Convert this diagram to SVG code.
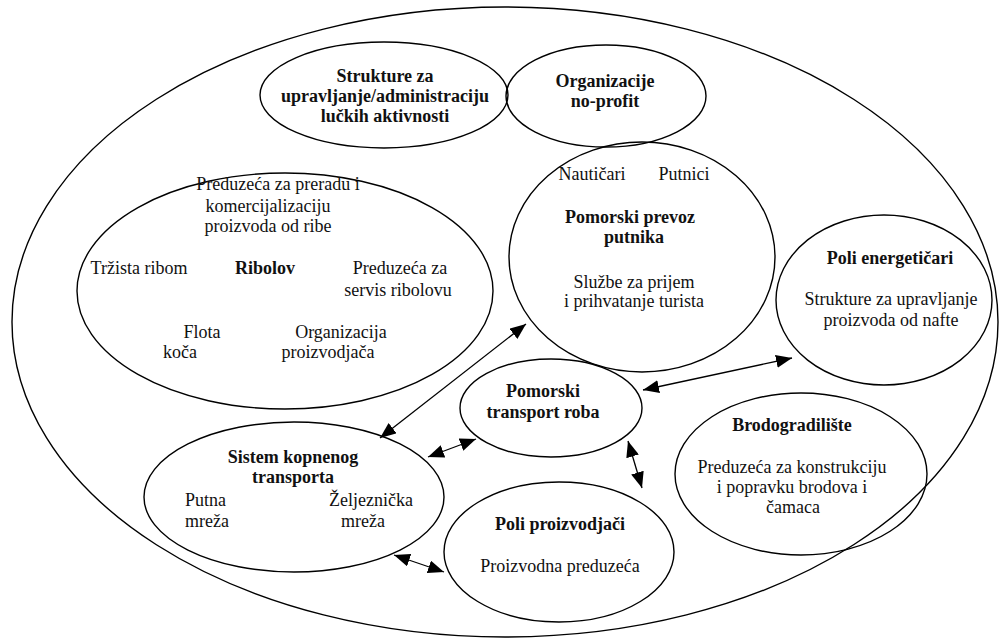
<svg xmlns="http://www.w3.org/2000/svg" width="999" height="638" viewBox="0 0 999 638">
<defs>
<style>
.e{fill:none;stroke:#000;stroke-width:1.4}
.t{font-family:"Liberation Serif","Times New Roman",serif;font-size:18px;fill:#111;text-anchor:middle}
.b{font-weight:bold}
.c{fill:none;stroke:#000;stroke-width:1.3}
</style>
<marker id="ah" viewBox="0 0 16 13" refX="16" refY="6.5" markerWidth="16" markerHeight="13" markerUnits="userSpaceOnUse" orient="auto-start-reverse">
<path d="M0,0 L16,6.5 L0,13 z" fill="#000"/>
</marker>
</defs>
<rect width="999" height="638" fill="#fff"/>
<g id="outer"><ellipse class="e" cx="505" cy="322" rx="493" ry="315"/></g>
<g id="strukture">
<ellipse class="e" cx="384" cy="95" rx="124" ry="53"/>
<text class="t b" x="385" y="82">Strukture za</text>
<text class="t b" x="385" y="102">upravljanje/administraciju</text>
<text class="t b" x="385" y="122">lučkih aktivnosti</text>
</g>
<g id="organizacije">
<ellipse class="e" cx="606" cy="96" rx="100" ry="51"/>
<text class="t b" x="605" y="87">Organizacije</text>
<text class="t b" x="605" y="107">no-profit</text>
</g>
<g id="ribolov">
<ellipse class="e" cx="285" cy="291" rx="208" ry="118"/>
<text class="t" x="278" y="190">Preduzeća za preradu i</text>
<text class="t" x="268" y="212">komercijalizaciju</text>
<text class="t" x="268" y="232">proizvoda od ribe</text>
<text class="t" x="139" y="274">Tržista ribom</text>
<text class="t b" x="265" y="274">Ribolov</text>
<text class="t" x="400" y="274">Preduzeća za</text>
<text class="t" x="398" y="296">servis ribolovu</text>
<text class="t" x="202" y="338">Flota</text>
<text class="t" x="180" y="358">koča</text>
<text class="t" x="341" y="338">Organizacija</text>
<text class="t" x="328" y="358">proizvodjača</text>
</g>
<g id="pomorski-prevoz">
<ellipse class="e" cx="642" cy="257" rx="133" ry="115"/>
<text class="t" x="592" y="180">Nautičari</text>
<text class="t" x="684" y="180">Putnici</text>
<text class="t b" x="630" y="223">Pomorski prevoz</text>
<text class="t b" x="634" y="243">putnika</text>
<text class="t" x="634" y="288">Službe za prijem</text>
<text class="t" x="634" y="307">i prihvatanje turista</text>
</g>
<g id="poli-energeticari">
<ellipse class="e" cx="884" cy="300" rx="108" ry="85"/>
<text class="t b" x="890" y="264">Poli energetičari</text>
<text class="t" x="891" y="305">Strukture za upravljanje</text>
<text class="t" x="891" y="326">proizvoda od nafte</text>
</g>
<g id="brodogradiliste">
<ellipse class="e" cx="801" cy="474" rx="126" ry="81"/>
<text class="t b" x="792" y="431">Brodogradilište</text>
<text class="t" x="792" y="473">Preduzeća za konstrukciju</text>
<text class="t" x="792" y="493">i popravku brodova i</text>
<text class="t" x="793" y="513">čamaca</text>
</g>
<g id="transport-roba">
<ellipse class="e" cx="551" cy="408" rx="91" ry="49"/>
<text class="t b" x="543" y="397">Pomorski</text>
<text class="t b" x="543" y="418">transport roba</text>
</g>
<g id="sistem-kopnenog">
<ellipse class="e" cx="294" cy="497" rx="150" ry="75"/>
<text class="t b" x="293" y="463">Sistem kopnenog</text>
<text class="t b" x="293" y="483">transporta</text>
<text class="t" x="185" y="506" style="text-anchor:start">Putna</text>
<text class="t" x="185" y="527" style="text-anchor:start">mreža</text>
<text class="t" x="371" y="506">Željeznička</text>
<text class="t" x="363" y="527">mreža</text>
</g>
<g id="poli-proizvodjaci">
<ellipse class="e" cx="559" cy="552" rx="115" ry="70"/>
<text class="t b" x="560" y="530">Poli proizvodjači</text>
<text class="t" x="560" y="572">Proizvodna preduzeća</text>
</g>
<g id="connectors">
<line class="c" x1="380" y1="438" x2="526" y2="324" marker-start="url(#ah)" marker-end="url(#ah)"/>
<line class="c" x1="428" y1="457" x2="476" y2="439" marker-start="url(#ah)" marker-end="url(#ah)"/>
<line class="c" x1="628" y1="441" x2="642" y2="488" marker-start="url(#ah)" marker-end="url(#ah)"/>
<line class="c" x1="394" y1="555" x2="444" y2="572" marker-start="url(#ah)" marker-end="url(#ah)"/>
<line class="c" x1="643" y1="390" x2="792" y2="358" marker-start="url(#ah)" marker-end="url(#ah)"/>
</g>
</svg>
